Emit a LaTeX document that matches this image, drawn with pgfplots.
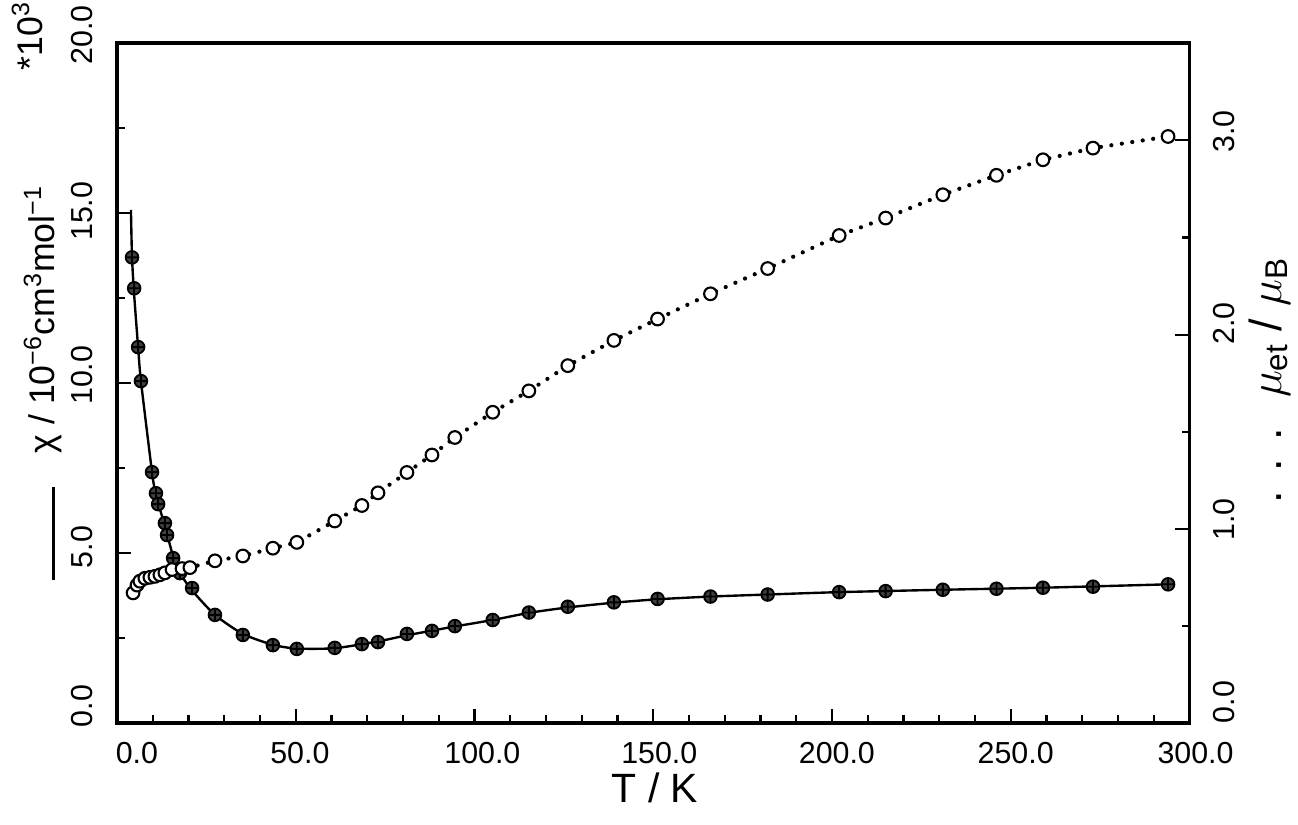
\documentclass[border=0pt]{standalone}
\usepackage{amsmath}
\usepackage{fontspec}
\setmainfont{Liberation Sans}
\usepackage{pgfplots}
\usepackage{pgfplotstable}
\pgfplotsset{compat=1.18}

% chi in 10^-6 cm^3/mol (*10^3)
\pgfplotstableread{
T chi
4.2 13.70
4.8 12.79
5.9 11.06
6.7 10.06
9.8 7.38
10.9 6.76
11.5 6.44
13.4 5.88
14.0 5.53
15.7 4.85
17.6 4.41
21.0 3.97
27.4 3.18
35.2 2.59
43.6 2.29
50.3 2.18
60.9 2.21
68.5 2.32
73.0 2.38
81.1 2.62
88.1 2.71
94.5 2.85
105.1 3.03
115.2 3.25
126.1 3.42
139.0 3.55
151.2 3.65
166.0 3.72
182.0 3.78
202.0 3.85
215.0 3.88
231.0 3.92
246.0 3.95
259.0 3.98
273.0 4.01
294.0 4.08
}\chidata

% fitted curve, starts a bit above the first point
\pgfplotstableread{
T chi
3.9 15.10
4.2 13.70
4.8 12.60
5.9 11.06
6.7 10.06
9.8 7.38
10.9 6.70
13.4 5.80
15.7 4.90
17.6 4.41
21.0 3.90
27.4 3.18
35.2 2.62
43.6 2.30
50.3 2.19
60.9 2.20
73.0 2.40
81.1 2.58
94.5 2.84
105.1 3.03
115.2 3.24
126.1 3.40
139.0 3.54
151.2 3.64
166.0 3.72
182.0 3.78
202.0 3.85
231.0 3.92
259.0 3.98
294.0 4.08
}\chiline

% mu_eff in mu_B
\pgfplotstableread{
T mu
4.5 0.67
5.6 0.71
6.4 0.73
7.8 0.745
9.2 0.75
10.6 0.755
12.0 0.763
13.4 0.773
15.4 0.79
18.2 0.795
20.4 0.80
27.4 0.835
35.2 0.86
43.6 0.90
50.3 0.93
60.9 1.04
68.5 1.12
73.0 1.185
81.1 1.29
88.1 1.38
94.5 1.47
105.1 1.60
115.2 1.71
126.1 1.84
139.0 1.97
151.2 2.08
166.0 2.21
182.0 2.34
202.0 2.51
215.0 2.60
231.0 2.72
246.0 2.82
259.0 2.90
273.0 2.96
294.0 3.02
}\mudata

\begin{document}
\begin{tikzpicture}
\def\s{0.0133}
\pgfplotsset{base/.style={
  scale only axis, width=14.27cm, height=9.044cm,
  xmin=0, xmax=300,
  axis line style={line width=1.4pt},
  every tick/.append style={black, line width=0.8pt},
  major tick length=0.19cm, minor tick length=0.1cm,
  tick label style={font=\fontsize{11.5}{13}\selectfont, inner sep=0pt},
}}

\begin{axis}[base,
  ymin=0, ymax=20,
  tick align=inside,
  xtick pos=bottom, ytick pos=left,
  xtick={0,50,...,300}, minor x tick num=4,
  xticklabels={\hspace*{0.53cm}0.0, \hspace*{0.11cm}50.0, \hspace*{0.21cm}100.0, \hspace*{0.16cm}150.0, \hspace*{0.13cm}200.0, \hspace*{0.13cm}250.0, \hspace*{0.16cm}300.0},
  xticklabel style={anchor=north, yshift=-0.25cm},
  ytick={0,5,...,20}, minor y tick num=1,
  yticklabels={\hspace*{0.45cm}0.0, \hspace*{0.16cm}5.0, \hspace*{0.21cm}10.0, \hspace*{0.05cm}15.0, \hspace*{0.22cm}20.0},
  yticklabel style={xshift=-0.32cm, rotate=90, anchor=south},
]
\addplot[black, line width=0.9pt, smooth, tension=0.4] table[x=T, y=chi] {\chiline};
\addplot[only marks, mark=oplus*, mark size=2.4pt,
  mark options={fill=black!75, draw=black, line width=0.7pt}] table[x=T, y=chi] {\chidata};
\end{axis}

\begin{axis}[base,
  ymin=0, ymax=3.5,
  axis x line=none, axis y line*=right,
  tick align=inside,
  ytick={0,1,2,3}, minor y tick num=1,
  yticklabels={\hspace*{0.56cm}0.0, \hspace*{0.24cm}1.0, \hspace*{0.29cm}2.0, \hspace*{0.24cm}3.0},
  yticklabel style={xshift=0.31cm, rotate=90, anchor=north},
]
\addplot[black, line width=1.6pt, line cap=round, dash pattern=on 0pt off 4pt] table[x=T, y=mu] {\mudata};
\addplot[only marks, mark=*, mark size=2.4pt,
  mark options={fill=white, draw=black, line width=0.8pt}] table[x=T, y=mu] {\mudata};
\end{axis}

% axis titles
\node[rotate=90, anchor=base, font=\fontsize{13.5}{15}\selectfont]
  at ({(55-117)*\s cm},{(723-383)*\s cm})
  {\rule{1.24cm}{1.1pt}\hspace{0.45cm}χ / 10\textsuperscript{−6}cm\textsuperscript{3}mol\textsuperscript{−1}};
\node[rotate=90, anchor=base, font=\fontsize{13.5}{15}\selectfont]
  at ({(43-117)*\s cm},{(723-36)*\s cm}) {*10\textsuperscript{3}};
\node[rotate=90, anchor=base, font=\fontsize{17}{19}\selectfont]
  at ({(1281-117)*\s cm},{(723-380)*\s cm})
  {.\hspace{0.25cm}.\hspace{0.25cm}.\hspace{0.4cm}$\mu_{\text{et}}$ / $\mu_{\text{B}}$};
\node[anchor=base, font=\fontsize{15.5}{17}\selectfont]
  at ({(655-117)*\s cm},{(723-803)*\s cm}) {T / K};

\pgfresetboundingbox
\path[use as bounding box] ({-117*\s cm},{-102*\s cm}) rectangle ({1181*\s cm},{723*\s cm});
\end{tikzpicture}
\end{document}
